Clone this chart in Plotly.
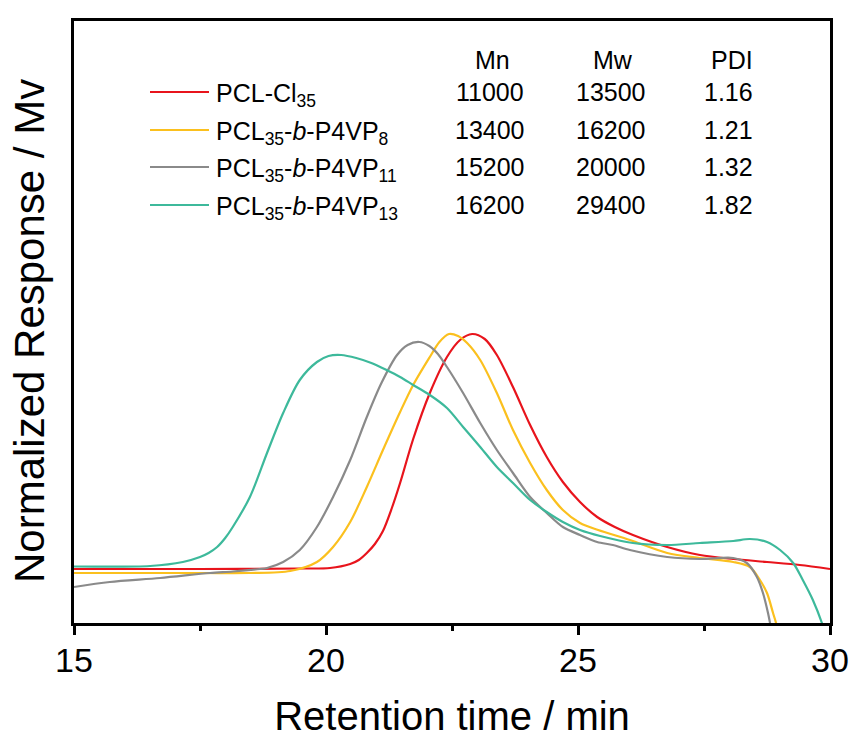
import plotly.graph_objects as go

# ---------------- data ----------------
# retention time (min) and normalized response (a.u.)
red_t = [15.00, 17.50, 19.48, 20.08, 20.48, 20.65, 20.81, 20.97, 21.13, 21.30, 21.47, 21.73, 22.06, 22.40,
         22.66, 22.90, 23.15, 23.39, 23.71, 24.05, 24.38, 24.70, 25.04, 25.38, 25.73, 26.09, 26.77, 27.42,
         28.08, 28.75, 29.40, 30.00]
red_v = [54, 54, 54.5, 55, 59, 63, 70, 79, 92, 114, 140, 184, 230, 266,
         283, 289, 284, 268, 236, 198, 166, 141, 121, 106, 96, 88, 76, 68,
         64, 61, 58, 54]

yel_t = [15.00, 17.50, 18.49, 19.29, 19.82, 20.14, 20.48, 20.81, 21.13, 21.47, 21.73, 22.06, 22.25, 22.44,
         22.62, 22.80, 23.06, 23.39, 23.71, 24.05, 24.38, 24.70, 25.04, 25.40, 26.03, 26.77, 27.42, 28.08,
         28.41, 28.61, 28.75, 28.87, 28.93, 29.00]
yel_v = [50, 50, 50, 52, 61, 76, 101, 136, 173, 211, 238, 266, 281, 289,
         287, 280, 263, 230, 193, 160, 133, 113, 100, 93, 83, 70, 65, 61,
         56, 43, 30, 10, 0, -15]

gry_t = [15.00, 15.71, 16.71, 17.70, 18.15, 18.69, 18.83, 19.15, 19.48, 19.82, 20.14, 20.48, 20.81, 21.10,
         21.41, 21.62, 21.85, 22.05, 22.22, 22.40, 22.72, 23.06, 23.39, 23.71, 24.05, 24.38, 24.70, 25.04,
         25.38, 25.69, 26.03, 26.77, 27.42, 28.08, 28.35, 28.55, 28.67, 28.77, 28.81, 28.86]
gry_v = [36, 41, 45, 50, 51.5, 54, 55, 61, 73, 96, 126, 163, 206, 240,
         268, 278, 281, 277, 269, 256, 230, 200, 173, 150, 126, 110, 96, 88,
         81, 78, 73, 66, 64, 65, 60, 46, 30, 10, 0, -15]

tea_t = [15.00, 16.51, 17.16, 17.50, 17.67, 17.84, 18.00, 18.15, 18.49, 18.83, 19.15, 19.48, 19.82, 20.05,
         20.30, 20.60, 20.90, 21.20, 21.47, 21.73, 22.06, 22.40, 22.72, 23.06, 23.39, 23.71, 24.05, 24.38,
         24.70, 25.04, 25.44, 26.09, 26.77, 27.42, 28.08, 28.41, 28.75, 29.01, 29.27, 29.46, 29.66, 29.84, 29.90]
tea_v = [56.5, 57, 61, 66, 70, 76, 85, 96, 126, 170, 210, 243, 261, 267,
         268, 265, 260, 253, 246, 238, 228, 215, 196, 176, 156, 140, 123, 111,
         101, 93, 87, 80, 78, 80, 82, 84, 81, 73, 60, 43, 23, 0, -10]

series_names = ["PCL-Cl<sub>35</sub>",
                "PCL<sub>35</sub>-<i>b</i>-P4VP<sub>8</sub>",
                "PCL<sub>35</sub>-<i>b</i>-P4VP<sub>11</sub>",
                "PCL<sub>35</sub>-<i>b</i>-P4VP<sub>13</sub>"]
table_headers = ["Mn", "Mw", "PDI"]
mn_values = ["11000", "13400", "15200", "16200"]
mw_values = ["13500", "16200", "20000", "29400"]
pdi_values = ["1.16", "1.21", "1.32", "1.82"]

x_ticks = [15, 20, 25, 30]

# ---------------- styling ----------------
colors = ["#E8141C", "#FBC01E", "#8A8A8A", "#3DB99B"]
FONT = "Arial, Liberation Sans, sans-serif"

# plot area in pixels
W, H = 853, 738
L, R, T, B = 74, 830, 21, 623

def px(xp):
    return (xp - L) / (R - L)

def py(yp):
    return (B - yp) / (B - T)

fig = go.Figure()
for t, v, c, n in zip([red_t, yel_t, gry_t, tea_t], [red_v, yel_v, gry_v, tea_v], colors, series_names):
    fig.add_trace(go.Scatter(x=t, y=v, mode="lines", name=n,
                             line=dict(color=c, width=2.2, shape="spline", smoothing=0.85),
                             showlegend=False))

# manual legend + table
row_y = [92, 130, 167, 205]
shapes = []
annots = []
TXT = 25
for i, (c, n) in enumerate(zip(colors, series_names)):
    yy = py(row_y[i])
    shapes.append(dict(type="line", xref="paper", yref="paper", x0=px(150), x1=px(209), y0=yy, y1=yy,
                       line=dict(color=c, width=2.2)))
    annots.append(dict(xref="paper", yref="paper", x=px(214), y=py(row_y[i] + 3), text=n,
                       showarrow=False, xanchor="left", yanchor="middle",
                       font=dict(size=TXT, color="black", family=FONT)))
    for val, cx in zip([mn_values[i], mw_values[i], pdi_values[i]], [490, 611, 728]):
        annots.append(dict(xref="paper", yref="paper", x=px(cx), y=yy, text=val,
                           showarrow=False, xanchor="center", yanchor="middle",
                           font=dict(size=TXT, color="black", family=FONT)))
for h, cx in zip(table_headers, [493, 613, 732]):
    annots.append(dict(xref="paper", yref="paper", x=px(cx), y=py(60), text=h,
                       showarrow=False, xanchor="center", yanchor="middle",
                       font=dict(size=TXT, color="black", family=FONT)))

# y-axis title (placed as a rotated annotation to match the reference position)
annots.append(dict(xref="paper", yref="paper", x=px(30), y=py(331), text="Normalized Response / Mv",
                   textangle=-90, showarrow=False, xanchor="center", yanchor="middle",
                   font=dict(size=42, color="black", family=FONT)))

fig.update_layout(
    width=W, height=H,
    margin=dict(l=L, r=W - R, t=T, b=H - B),
    paper_bgcolor="white", plot_bgcolor="white",
    shapes=shapes, annotations=annots,
    font=dict(family=FONT, color="black"),
)
fig.update_xaxes(
    range=[15, 30], tickvals=x_ticks, ticktext=[str(v) for v in x_ticks],
    showline=True, linecolor="black", linewidth=2.5, mirror=True,
    ticks="outside", ticklen=9, tickwidth=2.5, tickcolor="black",
    minor=dict(ticks="outside", ticklen=5, tickwidth=2.5, tickcolor="black", dtick=2.5, tick0=15),
    tickfont=dict(size=34, family=FONT, color="black"),
    ticklabelstandoff=-4,
    showgrid=False, zeroline=False, automargin=False,
    title=dict(text="Retention time / min", font=dict(size=40, family=FONT, color="black"), standoff=27),
)
fig.update_yaxes(
    range=[0, 602],
    showline=True, linecolor="black", linewidth=2.5, mirror=True,
    ticks="", showticklabels=False, showgrid=False, zeroline=False, automargin=False,
)

fig.write_html("out.html", config={"displayModeBar": False},
               post_script="document.body.style.margin='0';")
